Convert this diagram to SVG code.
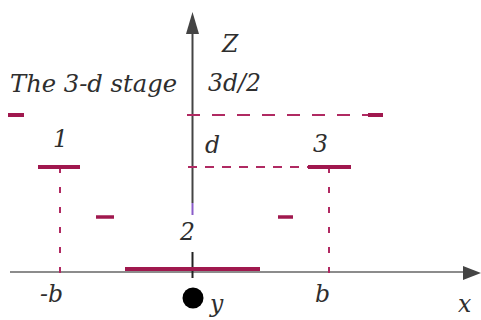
<svg xmlns="http://www.w3.org/2000/svg" width="481" height="320" viewBox="0 0 481 320">
<style>
.t{font-family:"DejaVu Serif","Liberation Serif",serif;font-style:italic;font-size:23.5px;fill:#2e2e2e}
.bar{stroke:#a0184e;stroke-width:4;fill:none}
.sm{stroke:#a0184e;stroke-width:3.5;fill:none}
.dl{stroke:#b02a62;stroke-width:2;fill:none}
.ax{stroke:#444;stroke-width:2;fill:none}
</style>
<rect width="481" height="320" fill="#fff"/>
<g id="axes">
<line class="ax" x1="10" y1="272" x2="466" y2="272" style="stroke:#8c8c8c"/>
<polygon points="481,273 463,266 463,280" fill="#444"/>
<line class="ax" x1="192.5" y1="30" x2="192.5" y2="203"/>
<line x1="192.5" y1="203" x2="192.5" y2="215" stroke="#8a5cc8" stroke-width="2"/>
<line class="ax" x1="192.5" y1="252" x2="192.5" y2="278" style="stroke:#222"/>
<polygon points="192.5,12 186,34 199,34" fill="#444"/>
</g>
<g id="connectors">
<line class="dl" x1="187" y1="115" x2="368" y2="115" stroke-dasharray="13 12"/>
<line class="dl" x1="188" y1="167" x2="308" y2="167" stroke-dasharray="9 8"/>
<line class="dl" x1="60" y1="167" x2="60" y2="278" stroke-dasharray="6 14"/>
<line class="dl" x1="329" y1="167" x2="329" y2="278" stroke-dasharray="6 14"/>
</g>
<g id="level-3d2">
<line class="bar" x1="8" y1="115" x2="24" y2="115"/>
<line class="bar" x1="368" y1="115" x2="383" y2="115"/>
</g>
<g id="stage-1"><line class="bar" x1="38" y1="167" x2="80" y2="167"/></g>
<g id="stage-3"><line class="bar" x1="308" y1="167" x2="351" y2="167"/></g>
<g id="level-d2">
<line class="sm" x1="96" y1="217" x2="114" y2="217"/>
<line class="sm" x1="278" y1="217" x2="293" y2="217"/>
</g>
<g id="stage-2"><line class="bar" x1="125" y1="269" x2="260" y2="269"/></g>
<g id="y-axis-dot"><circle cx="193" cy="298" r="10.5" fill="#000"/></g>
<g id="labels">
<text class="t" x="10" y="92" textLength="167" lengthAdjust="spacingAndGlyphs">The 3-d stage</text>
<text class="t" x="222" y="52">Z</text>
<text class="t" x="208" y="91">3d/2</text>
<text class="t" x="205" y="153">d</text>
<text class="t" x="313" y="152">3</text>
<text class="t" x="53" y="147">1</text>
<text class="t" x="180" y="240">2</text>
<text class="t" x="40" y="302">-b</text>
<text class="t" x="315" y="302">b</text>
<text class="t" x="458" y="312">x</text>
<text class="t" x="210" y="312">y</text>
</g>
</svg>
